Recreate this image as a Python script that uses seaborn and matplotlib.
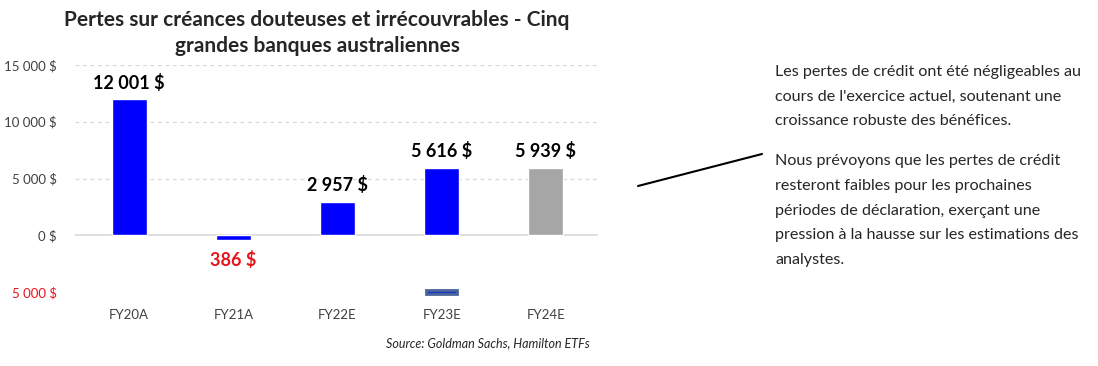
import matplotlib
matplotlib.use('Agg')
import matplotlib.pyplot as plt
import seaborn as sns
import pandas as pd

# chart data (bar heights as drawn, labels as printed)
years = ['FY20A', 'FY21A', 'FY22E', 'FY23E', 'FY24E']
losses = [12001, -386, 2957, 5950, 5939]
bar_colors = ['#0000ff', '#0000ff', '#0000ff', '#0000ff', '#a6a6a6']
value_labels = ['12 001 $', '386 $', '2 957 $', '5 616 $', '5 939 $']
label_colors = ['black', '#e8141b', 'black', 'black', 'black']
y_ticks = [-5000, 0, 5000, 10000, 15000]
y_tick_labels = ['5 000 $', '0 $', '5 000 $', '10 000 $', '15 000 $']

note_1 = ["Les pertes de crédit ont été négligeables au",
          "cours de l'exercice actuel, soutenant une",
          "croissance robuste des bénéfices."]
note_2 = ["Nous prévoyons que les pertes de crédit",
          "resteront faibles pour les prochaines",
          "périodes de déclaration, exerçant une",
          "pression à la hausse sur les estimations des",
          "analystes."]

df = pd.DataFrame({'year': years, 'loss': losses})

sns.set_style('white')
plt.rcParams['font.family'] = ['Lato', 'DejaVu Sans']

fig = plt.figure(figsize=(10.98, 3.66), dpi=100)
ax = fig.add_axes([75 / 1098, 1 - 292 / 366, 523 / 1098, 227 / 366])

sns.barplot(data=df, x='year', y='loss', hue='year', palette=bar_colors,
            legend=False, width=0.335, saturation=1, ax=ax)

# stray marker under FY23E
ax.bar(3, 280, bottom=-5140, width=0.3, color='#1c2fc8',
       edgecolor='#4a6699', linewidth=2, zorder=3, clip_on=False)

ax.set_xlim(-0.52, 4.5)
ax.set_ylim(-5000, 15000)
ax.set_yticks(y_ticks)
ax.set_yticklabels(y_tick_labels)
for t, c in zip(ax.get_yticklabels(), ['#e8141b', '#404040', '#404040', '#404040', '#404040']):
    t.set_color(c)
ax.tick_params(axis='y', labelsize=9.5, length=0, pad=13)
ax.tick_params(axis='x', labelsize=9.5, length=0, pad=12, colors='#404040')
ax.set_xlabel('')
ax.set_ylabel('')

for y in [-5000, 5000, 10000, 15000]:
    ax.axhline(y, color='#d9d9d9', linestyle=(0, (3, 3)), linewidth=0.9, zorder=0)
ax.axhline(0, color='#d9d9d9', linewidth=1.2, zorder=0)
sns.despine(ax=ax, left=True, bottom=True)

for i, (v, lab, col) in enumerate(zip(losses, value_labels, label_colors)):
    if v >= 0:
        ax.text(i, v + 650, lab, ha='center', va='bottom', fontsize=13,
                fontweight='bold', color=col)
    else:
        ax.text(i, v - 1000, lab, ha='center', va='top', fontsize=13,
                fontweight='bold', color=col)

fig.text(317 / 1098, 1 - 20 / 366, 'Pertes sur créances douteuses et irrécouvrables - Cinq',
         ha='center', va='center', fontsize=15, fontweight='bold')
fig.text(317 / 1098, 1 - 46 / 366, 'grandes banques australiennes',
         ha='center', va='center', fontsize=15, fontweight='bold')

fig.text(590 / 1098, 1 - 343 / 366, 'Source: Goldman Sachs, Hamilton ETFs',
         ha='right', va='center', fontsize=9, style='italic', color='#262626')

# notes on the right
y0 = 72
for i, line in enumerate(note_1):
    fig.text(775 / 1098, 1 - (y0 + i * 24.5) / 366, line, ha='left', va='center', fontsize=11.6)
y0 = 161
for i, line in enumerate(note_2):
    fig.text(775 / 1098, 1 - (y0 + i * 24.8) / 366, line, ha='left', va='center', fontsize=11.6)

fig.add_artist(plt.Line2D([638 / 1098, 762 / 1098], [1 - 186 / 366, 1 - 154 / 366],
                          color='black', linewidth=1.5))

fig.savefig('out.png', dpi=100)
